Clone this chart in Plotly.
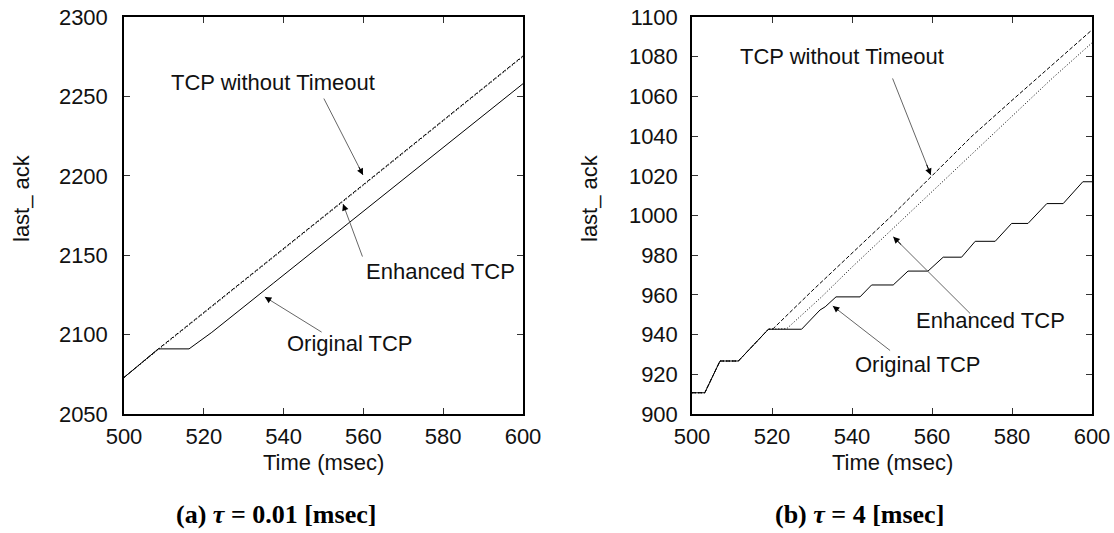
import plotly.graph_objects as go

# ---------------- data: (a) tau = 0.01 msec ----------------
a_orig_x = [500, 506.5, 508.6, 516.3, 522, 537.4, 575.2, 600]
a_orig_y = [2073, 2086.5, 2091, 2091, 2101.4, 2132.3, 2208.5, 2258]
a_noto_x = [500, 506.5, 508.6, 524.5, 540, 560, 580, 600]
a_noto_y = [2073, 2086.5, 2091, 2123, 2154, 2194.5, 2235, 2275.5]
a_enh_x = [500, 506.5, 508.6, 524.5, 540, 560, 580, 600]
a_enh_y = [2073, 2086.5, 2090.5, 2122.5, 2153.5, 2194, 2234.5, 2275]

# ---------------- data: (b) tau = 4 msec ----------------
b_orig_x = [500, 503.2, 507, 511.6, 519.1, 527.4, 532, 533.3, 536, 542, 544.9, 550.3,
            554, 559, 562.8, 567.4, 570.8, 575.8, 579.9, 584, 588.7, 592.8, 597.7, 600]
b_orig_y = [910.7, 910.7, 926.7, 926.7, 942.7, 942.7, 952.4, 954, 959, 959, 965, 965,
            972, 972, 979, 979, 987, 987, 996, 996, 1006, 1006, 1017, 1017]
b_noto_x = [500, 503.2, 507, 511.6, 519.1, 520.3, 530, 540, 550, 560, 570, 580, 590, 600]
b_noto_y = [910.7, 910.7, 926.7, 926.7, 942.7, 943, 962, 981, 1000, 1020, 1040, 1058, 1076, 1093.5]
b_enh_x = [500, 503.2, 507, 511.6, 519.1, 523.7, 532.4, 540, 550, 560, 570, 580, 590, 600]
b_enh_y = [910.7, 910.7, 926.7, 926.7, 942.7, 943, 959, 974, 993, 1012, 1031, 1050, 1069, 1087]

x_ticks = [500, 520, 540, 560, 580, 600]
a_y_ticks = [2050, 2100, 2150, 2200, 2250, 2300]
b_y_ticks = [900, 920, 940, 960, 980, 1000, 1020, 1040, 1060, 1080, 1100]

FONT = "Liberation Sans"
W, H = 1114, 533

fig = go.Figure()

def add_series(x, y, xa, ya, dash):
    fig.add_trace(go.Scatter(x=x, y=y, xaxis=xa, yaxis=ya, mode="lines",
                             line=dict(color="black", width=1, dash=dash),
                             hoverinfo="skip", showlegend=False))

add_series(a_noto_x, a_noto_y, "x", "y", "4px,2px")
add_series(a_enh_x, a_enh_y, "x", "y", "1px,2px")
add_series(a_orig_x, a_orig_y, "x", "y", "solid")
add_series(b_noto_x, b_noto_y, "x2", "y2", "4px,2px")
add_series(b_enh_x, b_enh_y, "x2", "y2", "1px,2px")
add_series(b_orig_x, b_orig_y, "x2", "y2", "solid")

def px_x(p0, p1):
    return [p0 / W, p1 / W]

axis_common = dict(showline=True, linecolor="black", linewidth=1.5, mirror="ticks",
                   ticks="inside", ticklen=6, tickwidth=1, tickcolor="#333",
                   showgrid=False, zeroline=False, automargin=False,
                   tickfont=dict(family=FONT, size=22, color="#111"))

ydom = [1 - 414 / H, 1 - 17 / H]
fig.update_layout(
    width=W, height=H, margin=dict(l=0, r=0, t=0, b=0),
    paper_bgcolor="white", plot_bgcolor="white",
    xaxis=dict(domain=px_x(124, 523), range=[500, 600], tickvals=x_ticks,
               anchor="y", ticklabelstandoff=2, **axis_common),
    yaxis=dict(domain=ydom, range=[2050, 2300], tickvals=a_y_ticks,
               anchor="x", ticklabelstandoff=10, **axis_common),
    xaxis2=dict(domain=px_x(692, 1092), range=[500, 600], tickvals=x_ticks,
                anchor="y2", ticklabelstandoff=2, **axis_common),
    yaxis2=dict(domain=ydom, range=[900, 1100], tickvals=b_y_ticks,
                anchor="x2", ticklabelstandoff=8, **axis_common),
)

anns = []
tfont = dict(family=FONT, size=22, color="#111")

def text(x, y, t, xr, yr):
    anns.append(dict(x=x, y=y, xref=xr, yref=yr, text=t, showarrow=False,
                     font=tfont, xanchor="center", yanchor="middle"))

def arrow(tx, ty, hx, hy, xr, yr):
    # gray shaft
    anns.append(dict(x=hx, y=hy, ax=tx, ay=ty, xref=xr, yref=yr, axref=xr, ayref=yr,
                     text="", showarrow=True, arrowhead=0, arrowwidth=1,
                     arrowcolor="#666", standoff=0))
    # black head
    mx = hx + (tx - hx) * 0.12
    my = hy + (ty - hy) * 0.12
    anns.append(dict(x=hx, y=hy, ax=mx, ay=my, xref=xr, yref=yr, axref=xr, ayref=yr,
                     text="", showarrow=True, arrowhead=2, arrowsize=1.3, arrowwidth=1,
                     arrowcolor="black", standoff=0))

# panel (a)
text(537.3, 2259, "TCP without Timeout", "x", "y")
text(579.4, 2140, "Enhanced TCP", "x", "y")
text(556.6, 2094.7, "Original TCP", "x", "y")
arrow(549.9, 2249.6, 559.9, 2200.5, "x", "y")
arrow(559.9, 2148.2, 554.9, 2182.2, "x", "y")
arrow(549.9, 2101.0, 535.3, 2123.7, "x", "y")

# panel (b)
text(537.4, 1079.9, "TCP without Timeout", "x2", "y2")
text(574.6, 946.9, "Enhanced TCP", "x2", "y2")
text(556.5, 924.7, "Original TCP", "x2", "y2")
arrow(550.0, 1069.8, 559.7, 1020.4, "x2", "y2")
arrow(569.9, 949.9, 550.3, 989.3, "x2", "y2")
arrow(549.9, 931.4, 535.2, 954.4, "x2", "y2")

# axis titles
for cx in (323.5, 892):
    anns.append(dict(x=cx / W, y=1 - 462 / H, xref="paper", yref="paper",
                     text="Time (msec)", showarrow=False, font=tfont,
                     xanchor="center", yanchor="middle"))
for cx in (21, 589):
    anns.append(dict(x=cx / W, y=1 - 198 / H, xref="paper", yref="paper",
                     text="last_ ack", textangle=-90, showarrow=False, font=tfont,
                     xanchor="center", yanchor="middle"))

# captions
cfont = dict(family="Liberation Serif", size=26, color="black")
anns.append(dict(x=276 / W, y=1 - 514 / H, xref="paper", yref="paper",
                 text="<b>(a) <i>τ</i> = 0.01 [msec]</b>", showarrow=False, font=cfont,
                 xanchor="center", yanchor="middle"))
anns.append(dict(x=859 / W, y=1 - 514 / H, xref="paper", yref="paper",
                 text="<b>(b) <i>τ</i> = 4 [msec]</b>", showarrow=False, font=cfont,
                 xanchor="center", yanchor="middle"))

fig.update_layout(annotations=anns)
fig.write_html("out.html")
